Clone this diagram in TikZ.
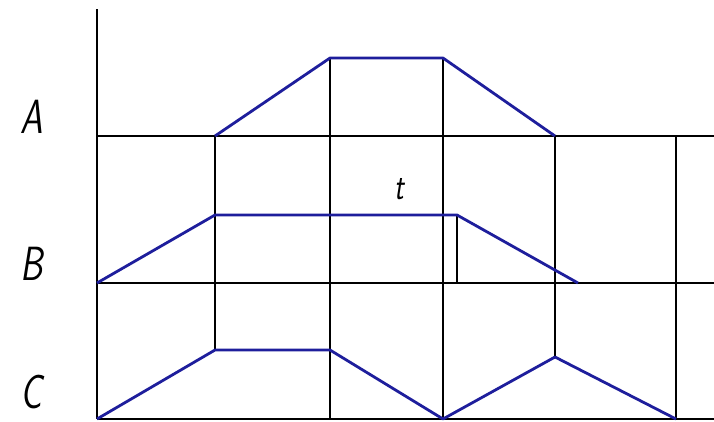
\documentclass[tikz,border=0pt]{standalone}
\usepackage{tikz}
\definecolor{penblue}{HTML}{1E1E9C}

\begin{document}
\begin{tikzpicture}[x=1pt, y=-1pt,
    grid/.style={black, line width=1.1pt},
    wave/.style={penblue, line width=2.8pt, line join=round},
    lbl/.style={font=\fontsize{48}{48}\selectfont\sffamily\slshape, inner sep=0pt},
]
\useasboundingbox (0,0) rectangle (714,421);

% axis and base lines
\draw[grid] (97,9) -- (97,419);
\draw[grid] (97,136) -- (714,136);
\draw[grid] (97,283) -- (714,283);
\draw[grid] (97,419) -- (714,419);

% time marks
\draw[grid] (215,136) -- (215,350);
\draw[grid] (330,58) -- (330,419);
\draw[grid] (443,58) -- (443,419);
\draw[grid] (555,136) -- (555,357);
\draw[grid] (676,136) -- (676,419);
\draw[grid] (457,215) -- (457,283);

% signals
\draw[wave] (215,136) -- (330,58) -- (443,58) -- (555,136);
\draw[wave] (97,283) -- (215,215) -- (457,215) -- (578,283);
\draw[wave] (97,419) -- (215,350) -- (330,350) -- (443,419) -- (555,357) -- (676,419);

% labels
\node[lbl, xscale=0.75] (la) at (32,117) {A};
\node[lbl, xscale=0.75] (lb) at (32,264) {B};
\node[lbl, xscale=0.75] (lc) at (31,392) {C};
\node[lbl, font=\fontsize{38}{38}\selectfont\sffamily\slshape, xscale=0.75] (lt) at (399,189) {t};
\end{tikzpicture}
\end{document}
